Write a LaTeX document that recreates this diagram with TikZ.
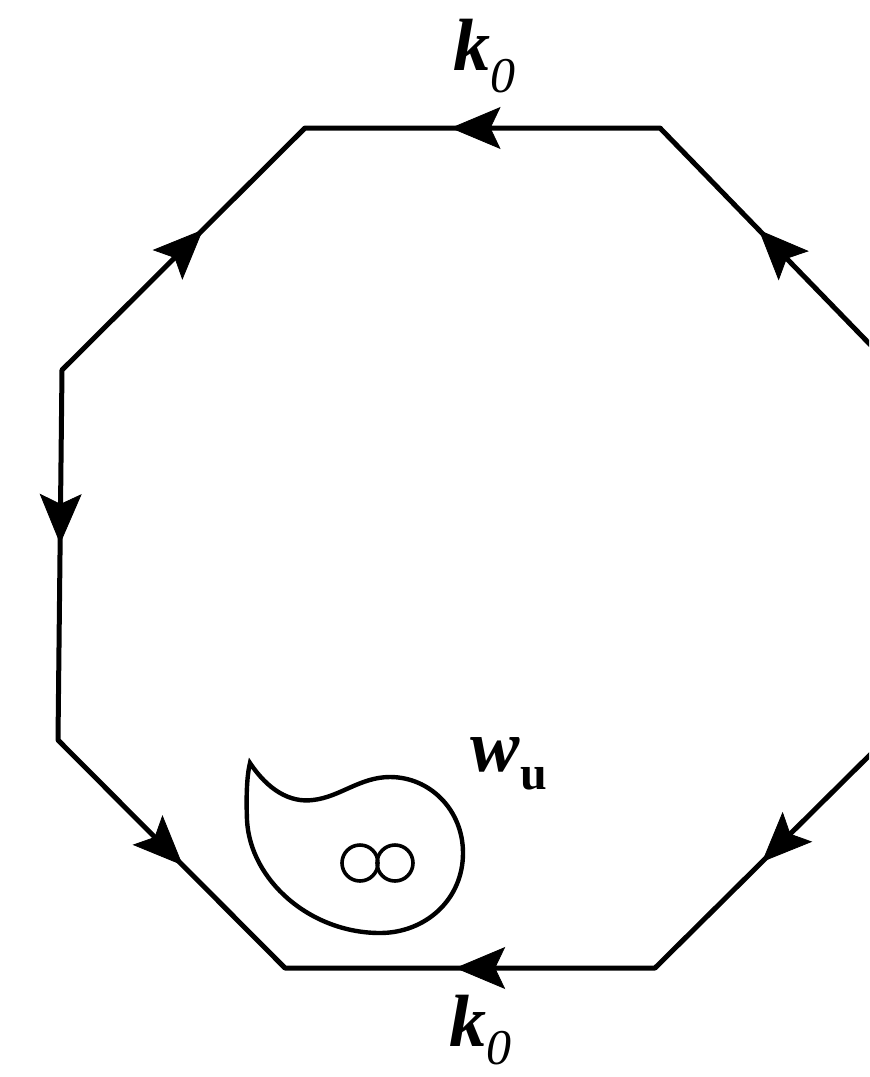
\documentclass[tikz,border=0pt]{standalone}
\usepackage{fontspec}
\setmainfont{Liberation Serif}
\usetikzlibrary{arrows.meta,decorations.markings}
\tikzset{
  edge/.style={line width=2.5pt, line join=round},
  arr/.style={postaction={decorate, decoration={markings,
     mark=at position #1 with {\arrow{Stealth[length=25pt,width=21pt,inset=5pt]}}}}},
  lbl/.style={inner sep=0pt, font=\fontsize{37}{39}\selectfont},
  blob/.style={line width=2.2pt}
}
\begin{document}
\begin{tikzpicture}[x=0.5pt,y=-0.5pt]
\useasboundingbox (0,0) rectangle (869,1077);
\clip (0,0) rectangle (869,1077);
\coordinate (T1) at (660,128);
\coordinate (T2) at (305,128);
\coordinate (L1) at (62,370);
\coordinate (L2) at (58,740);
\coordinate (B1) at (285,968);
\coordinate (B2) at (655,968);
\coordinate (R2) at (890,735);
\coordinate (R1) at (890,365);
\draw[edge] (T1) -- (T2) -- (L1) -- (L2) -- (B1) -- (B2) -- (R2) -- (R1) -- cycle;
\path[arr=0.59] (T1) -- (T2);
\path[arr=0.58] (L1) -- (T2);
\path[arr=0.47] (L1) -- (L2);
\path[arr=0.55] (L2) -- (B1);
\path[arr=0.54] (B2) -- (B1);
\path[arr=0.545] (R2) -- (B2);
\path[arr=0.57] (R1) -- (T1);
% teardrop
\draw[blob] (250,763) .. controls (268,790) and (290,803) .. (313,800)
  .. controls (340,797) and (360,777) .. (390,777)
  .. controls (430,777) and (463,810) .. (463,853)
  .. controls (463,900) and (425,933) .. (380,933)
  .. controls (310,933) and (250,880) .. (247,820)
  .. controls (246,795) and (247,775) .. (250,763) -- cycle;
\draw[line width=1.8pt] (360,863) circle (18);
\draw[line width=1.8pt] (395,863) circle (18);
\node[lbl] (ktop) at (484,56) {\textbf{\textit{k}}\raisebox{-0.3em}{\fontsize{25}{25}\selectfont\itshape 0}};
\node[lbl] (kbot) at (480,1030) {\textbf{\textit{k}}\raisebox{-0.25em}{\fontsize{25}{25}\selectfont\itshape 0}};
\node[lbl] (wu) at (509,764) {\textbf{\textit{w}}\raisebox{-0.25em}{\fontsize{24}{24}\selectfont\bfseries u}};
\end{tikzpicture}
\end{document}
